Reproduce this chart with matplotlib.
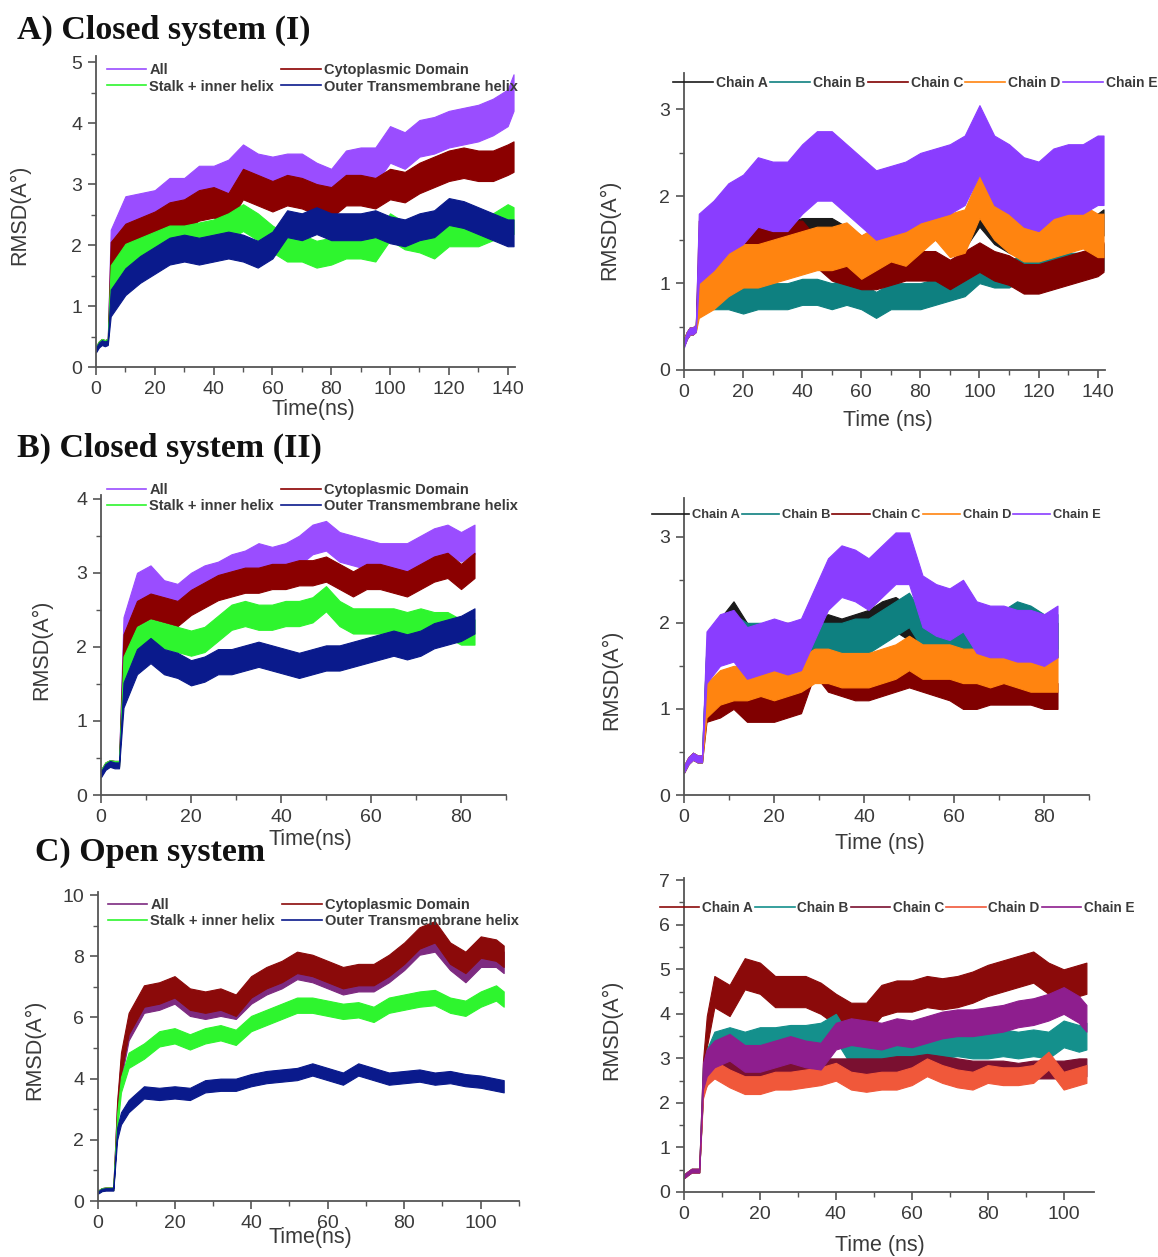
import numpy as np
import matplotlib.pyplot as plt
from matplotlib.lines import Line2D

plt.rcParams['font.family'] = ['Liberation Sans', 'DejaVu Sans']

W, H = 1158, 1257

# ---- time grids (ns) ----
t_a = [0, 1, 2, 3, 4, 5, 10, 15, 20, 25, 30, 35, 40, 45, 50, 55, 60, 65, 70, 75,
       80, 85, 90, 95, 100, 105, 110, 115, 120, 125, 130, 135, 140, 142]
t_b = [0, 1, 2, 3, 4, 5, 8, 11, 14, 17, 20, 23, 26, 29, 32, 35, 38, 41, 44, 47,
       50, 53, 56, 59, 62, 65, 68, 71, 74, 77, 80, 83]
t_c = [0, 1, 2, 3, 4, 5, 6, 8, 12, 16, 20, 24, 28, 32, 36, 40, 44, 48, 52, 56,
       60, 64, 68, 72, 76, 80, 84, 88, 92, 96, 100, 104, 106]

# ---- A) closed system (I), domains ----
a_all = [0.30, 0.38, 0.42, 0.40, 0.42, 1.95, 2.5, 2.55, 2.6, 2.8, 2.8, 3.0, 3.0, 3.1, 3.35,
         3.2, 3.15, 3.2, 3.2, 3.05, 2.95, 3.25, 3.3, 3.3, 3.65, 3.55, 3.75, 3.8, 3.9,
         3.95, 4.0, 4.1, 4.25, 4.5]
a_cyto = [0.30, 0.38, 0.42, 0.40, 0.42, 1.8, 2.1, 2.2, 2.3, 2.45, 2.5, 2.65, 2.7, 2.6, 3.0,
          2.9, 2.8, 2.9, 2.85, 2.75, 2.7, 2.9, 2.9, 2.85, 3.0, 2.95, 3.1, 3.2, 3.3,
          3.35, 3.3, 3.3, 3.4, 3.45]
a_stalk = [0.30, 0.38, 0.42, 0.40, 0.42, 1.45, 1.8, 1.9, 2.0, 2.1, 2.1, 2.15, 2.2, 2.3, 2.45,
           2.3, 2.1, 1.95, 1.95, 1.85, 1.9, 2.0, 2.0, 1.95, 2.3, 2.15, 2.1, 2.0, 2.2,
           2.2, 2.2, 2.3, 2.45, 2.4]
a_outer = [0.28, 0.36, 0.40, 0.38, 0.40, 1.05, 1.4, 1.6, 1.75, 1.9, 1.95, 1.9, 1.95, 2.0, 1.95,
           1.85, 2.0, 2.35, 2.3, 2.4, 2.3, 2.3, 2.3, 2.35, 2.25, 2.2, 2.3, 2.35, 2.55,
           2.5, 2.4, 2.3, 2.2, 2.2]

# ---- A) closed system (I), chains ----
a_chain_a = [0.32, 0.40, 0.45, 0.45, 0.48, 1.3, 1.35, 1.4, 1.45, 1.5, 1.5, 1.55, 1.6, 1.6, 1.6,
             1.5, 1.4, 1.45, 1.5, 1.5, 1.6, 1.65, 1.55, 1.55, 1.8, 1.6, 1.5, 1.45, 1.45,
             1.5, 1.55, 1.6, 1.65, 1.7]
a_chain_b = [0.32, 0.40, 0.45, 0.45, 0.48, 0.9, 0.85, 0.85, 0.8, 0.85, 0.85, 0.85, 0.9, 0.9, 0.85,
             0.9, 0.85, 0.75, 0.85, 0.85, 0.85, 0.9, 0.95, 1.0, 1.15, 1.1, 1.1, 1.2, 1.25,
             1.2, 1.2, 1.2, 1.3, 1.3]
a_chain_c = [0.32, 0.40, 0.45, 0.45, 0.48, 1.55, 1.5, 1.4, 1.45, 1.5, 1.5, 1.55, 1.55, 1.35, 1.2,
             1.15, 1.1, 1.1, 1.15, 1.2, 1.2, 1.2, 1.1, 1.2, 1.3, 1.2, 1.15, 1.05, 1.05,
             1.1, 1.15, 1.2, 1.25, 1.3]
a_chain_d = [0.32, 0.40, 0.45, 0.45, 0.48, 0.85, 0.95, 1.1, 1.2, 1.2, 1.25, 1.3, 1.35, 1.4, 1.4,
             1.45, 1.3, 1.4, 1.5, 1.45, 1.6, 1.75, 1.55, 1.6, 2.0, 1.75, 1.6, 1.5, 1.5,
             1.55, 1.6, 1.65, 1.55, 1.55]
a_chain_e = [0.30, 0.40, 0.45, 0.45, 0.48, 1.4, 1.55, 1.75, 1.85, 2.05, 2.0, 2.0, 2.2, 2.35, 2.35,
             2.2, 2.05, 1.9, 1.95, 2.0, 2.1, 2.15, 2.2, 2.3, 2.65, 2.3, 2.2, 2.05, 2.0,
             2.15, 2.2, 2.2, 2.3, 2.3]

# ---- B) closed system (II), domains ----
b_all = [0.30, 0.40, 0.43, 0.42, 0.42, 2.2, 2.8, 2.9, 2.7, 2.65, 2.8, 2.9, 2.95, 3.05, 3.1,
         3.2, 3.15, 3.2, 3.3, 3.45, 3.5, 3.35, 3.3, 3.25, 3.2, 3.2, 3.2, 3.3, 3.4, 3.45,
         3.35, 3.45]
b_cyto = [0.30, 0.40, 0.43, 0.42, 0.42, 2.0, 2.45, 2.55, 2.5, 2.45, 2.6, 2.7, 2.8, 2.85, 2.9,
          2.9, 2.95, 2.95, 3.0, 3.0, 3.05, 2.95, 2.85, 2.95, 2.95, 2.9, 2.85, 2.95, 3.05,
          3.1, 2.95, 3.1]
b_stalk = [0.30, 0.40, 0.43, 0.42, 0.42, 1.7, 2.1, 2.2, 2.15, 2.1, 2.05, 2.1, 2.25, 2.4, 2.45,
           2.4, 2.4, 2.45, 2.45, 2.5, 2.65, 2.45, 2.35, 2.35, 2.35, 2.35, 2.3, 2.35, 2.3,
           2.3, 2.2, 2.2]
b_outer = [0.28, 0.38, 0.42, 0.40, 0.40, 1.35, 1.8, 1.95, 1.8, 1.75, 1.65, 1.7, 1.8, 1.8, 1.85,
           1.9, 1.85, 1.8, 1.75, 1.8, 1.85, 1.85, 1.9, 1.95, 2.0, 2.05, 2.0, 2.05, 2.15,
           2.2, 2.25, 2.35]

# ---- B) closed system (II), chains ----
b_chain_a = [0.30, 0.40, 0.45, 0.42, 0.42, 1.55, 1.85, 2.05, 1.8, 1.75, 1.8, 1.8, 1.8, 1.85, 1.9,
             1.85, 1.9, 1.95, 2.05, 2.1, 2.0, 1.9, 1.85, 1.8, 1.8, 1.8, 1.8, 1.85, 1.9,
             1.85, 1.8, 1.8]
b_chain_b = [0.30, 0.40, 0.45, 0.42, 0.42, 1.55, 1.8, 1.9, 1.8, 1.8, 1.75, 1.75, 1.8, 1.8, 1.8,
             1.8, 1.85, 1.85, 1.95, 2.05, 2.15, 1.9, 1.85, 1.9, 1.9, 1.9, 1.9, 1.95, 2.05,
             2.0, 1.9, 1.9]
b_chain_c = [0.30, 0.40, 0.45, 0.42, 0.42, 1.0, 1.05, 1.15, 1.0, 1.0, 1.0, 1.05, 1.1, 1.55, 1.35,
             1.3, 1.25, 1.25, 1.3, 1.35, 1.4, 1.35, 1.3, 1.25, 1.15, 1.15, 1.2, 1.2, 1.2,
             1.2, 1.15, 1.15]
b_chain_d = [0.30, 0.40, 0.45, 0.42, 0.42, 1.1, 1.25, 1.3, 1.3, 1.35, 1.3, 1.35, 1.4, 1.5, 1.5,
             1.45, 1.45, 1.45, 1.5, 1.55, 1.65, 1.55, 1.55, 1.55, 1.5, 1.5, 1.45, 1.5, 1.45,
             1.4, 1.4, 1.4]
b_chain_e = [0.30, 0.40, 0.45, 0.42, 0.42, 1.6, 1.8, 1.85, 1.65, 1.7, 1.75, 1.7, 1.75, 2.1, 2.45,
             2.6, 2.55, 2.45, 2.6, 2.75, 2.75, 2.25, 2.15, 2.1, 2.2, 1.95, 1.9, 1.9, 1.85,
             1.85, 1.8, 1.9]

# ---- C) open system, domains ----
c_all = [0.30, 0.38, 0.40, 0.40, 0.40, 2.8, 4.3, 5.6, 6.5, 6.6, 6.8, 6.4, 6.3, 6.4, 6.3, 6.8,
         7.1, 7.3, 7.6, 7.5, 7.3, 7.1, 7.2, 7.2, 7.5, 7.9, 8.4, 8.5, 7.9, 7.5, 8.0, 8.0, 7.8]
c_cyto = [0.30, 0.38, 0.40, 0.40, 0.40, 2.9, 4.5, 5.8, 6.7, 6.8, 7.0, 6.6, 6.5, 6.6, 6.4, 7.0,
          7.3, 7.5, 7.8, 7.7, 7.5, 7.3, 7.4, 7.4, 7.7, 8.1, 8.6, 8.8, 8.1, 7.8, 8.3, 8.2, 8.0]
c_stalk = [0.30, 0.38, 0.40, 0.40, 0.40, 2.6, 3.8, 4.6, 4.9, 5.3, 5.4, 5.2, 5.4, 5.5, 5.35, 5.8,
           6.0, 6.2, 6.4, 6.4, 6.3, 6.2, 6.25, 6.1, 6.4, 6.5, 6.6, 6.65, 6.4, 6.3, 6.6, 6.8, 6.6]
c_outer = [0.28, 0.36, 0.38, 0.38, 0.38, 2.2, 2.7, 3.1, 3.55, 3.5, 3.55, 3.5, 3.75, 3.8, 3.8,
           3.95, 4.05, 4.1, 4.15, 4.3, 4.15, 4.0, 4.3, 4.15, 4.0, 4.05, 4.1, 4.0, 4.05, 3.95,
           3.9, 3.8, 3.75]

# ---- C) open system, chains ----
c_chain_a = [0.35, 0.42, 0.48, 0.48, 0.48, 2.6, 3.6, 4.5, 4.3, 4.9, 4.8, 4.5, 4.5, 4.5, 4.35,
             4.1, 3.9, 3.9, 4.3, 4.4, 4.4, 4.5, 4.45, 4.5, 4.6, 4.75, 4.85, 4.95, 5.05, 4.8,
             4.65, 4.75, 4.8]
c_chain_b = [0.35, 0.42, 0.48, 0.48, 0.48, 2.5, 2.9, 3.3, 3.4, 3.3, 3.4, 3.4, 3.45, 3.45, 3.5,
             3.7, 3.15, 3.15, 3.15, 3.2, 3.25, 3.3, 3.3, 3.35, 3.3, 3.3, 3.35, 3.3, 3.35, 3.3,
             3.55, 3.45, 3.5]
c_chain_c = [0.35, 0.42, 0.48, 0.48, 0.48, 2.4, 2.6, 2.8, 2.85, 2.8, 2.8, 2.8, 2.8, 2.8, 2.8,
             2.8, 2.8, 2.8, 2.8, 2.85, 2.85, 2.9, 2.85, 2.8, 2.75, 2.75, 2.75, 2.7, 2.75, 2.75,
             2.75, 2.8, 2.8]
c_chain_d = [0.35, 0.42, 0.48, 0.48, 0.48, 2.3, 2.6, 2.75, 2.55, 2.4, 2.4, 2.5, 2.5, 2.55, 2.6,
             2.7, 2.5, 2.45, 2.5, 2.5, 2.6, 2.8, 2.65, 2.55, 2.5, 2.65, 2.6, 2.6, 2.65, 2.95,
             2.5, 2.6, 2.65]
c_chain_e = [0.35, 0.42, 0.48, 0.48, 0.48, 2.6, 2.9, 3.1, 3.25, 3.0, 3.0, 3.1, 3.2, 3.1, 3.05,
             3.5, 3.6, 3.55, 3.5, 3.6, 3.55, 3.65, 3.75, 3.8, 3.8, 3.85, 3.9, 4.0, 4.05, 4.15,
             4.3, 4.1, 3.9]

# half-width of each fluctuation band
a_dom_spread = [0.3, 0.25, 0.22, 0.22]
a_chain_spread = [0.15, 0.15, 0.17, 0.25, 0.4]
b_dom_spread = [0.2, 0.17, 0.17, 0.17]
b_chain_spread = [0.2, 0.2, 0.15, 0.2, 0.3]
c_dom_spread = [0.35, 0.35, 0.25, 0.2]
c_chain_spread = [0.35, 0.3, 0.2, 0.2, 0.3]

domain_labels = ['All', 'Cytoplasmic Domain', 'Stalk + inner helix', 'Outer Transmembrane helix']
chain_labels = ['Chain A', 'Chain B', 'Chain C', 'Chain D', 'Chain E']

domain_colors = ['#9a4dff', '#8b0000', '#2ef52e', '#0a1a8c']
domain_colors_open = ['#7d2a80', '#8b0a0a', '#2ef52e', '#0a1a8c']
chain_colors = ['#1a1a1a', '#0e8080', '#800000', '#ff8410', '#8a3dff']
chain_colors_open = ['#8b0a0a', '#14908c', '#7a1030', '#f0583a', '#8e1e8e']

GREY = '#3a3a3a'
fig = plt.figure(figsize=(W / 100, H / 100), dpi=100)


def make_axes(x0, x1, ybot, ytop):
    return fig.add_axes([x0 / W, 1 - ybot / H, (x1 - x0) / W, (ybot - ytop) / H])


def draw_band(ax, t, y, spread, color):
    t = np.asarray(t, dtype=float)
    y = np.asarray(y, dtype=float)
    s = np.where(t <= 4, 0.04, spread)
    ax.fill_between(t, y - s, y + s, color=color, lw=0.8, edgecolor=color)


def style(ax, xlim, ylim, xmaj, ymaj, xlabel, xl_pos, yl_pos):
    ax.set_xlim(*xlim)
    ax.set_ylim(*ylim)
    for side in ['top', 'right']:
        ax.spines[side].set_visible(False)
    for side in ['left', 'bottom']:
        ax.spines[side].set_color('#555555')
        ax.spines[side].set_linewidth(1.3)
    ax.set_xticks(np.arange(0, xlim[1] + 0.01, xmaj))
    ax.set_xticks(np.arange(xmaj / 2, xlim[1] + 0.01, xmaj / 2), minor=True)
    ax.set_yticks(np.arange(0, ylim[1] + 0.01, ymaj))
    ax.set_yticks(np.arange(ymaj / 2, ylim[1] + 0.01, ymaj / 2), minor=True)
    ax.tick_params(which='major', length=6, width=1.2, color='#555555',
                   labelsize=14, labelcolor=GREY, pad=4)
    ax.tick_params(which='minor', length=3.5, width=1.0, color='#555555')
    ax.set_xlabel(xlabel, fontsize=15.5, color=GREY, va='center')
    ax.set_ylabel('RMSD(A°)', fontsize=15.5, color=GREY, va='center')
    ax.xaxis.set_label_coords(xl_pos[0] / W, 1 - xl_pos[1] / H, transform=fig.transFigure)
    ax.yaxis.set_label_coords(yl_pos[0] / W, 1 - yl_pos[1] / H, transform=fig.transFigure)


def domain_legend(ax, colors, pos):
    order = [0, 2, 1, 3]
    handles = [Line2D([], [], color=colors[i], lw=1.2) for i in order]
    ax.legend(handles, [domain_labels[i] for i in order], loc='center left',
              bbox_to_anchor=(pos[0] / W, 1 - pos[1] / H), bbox_transform=fig.transFigure,
              ncol=2, frameon=False, borderpad=0, borderaxespad=0, handlelength=2.7,
              handletextpad=0.2, columnspacing=0.5, labelspacing=0.15, labelcolor=GREY,
              prop=dict(family='Liberation Sans', weight='bold', size=10.5))


def chain_legend(ax, colors, pos, size):
    handles = [Line2D([], [], color=c, lw=1.2) for c in colors]
    ax.legend(handles, chain_labels, loc='center left',
              bbox_to_anchor=(pos[0] / W, 1 - pos[1] / H), bbox_transform=fig.transFigure,
              ncol=5, frameon=False, borderpad=0, borderaxespad=0, handlelength=2.9,
              handletextpad=0.2, columnspacing=0.15, labelcolor=GREY,
              prop=dict(family='Liberation Sans', weight='bold', size=size))


# A, left
ax = make_axes(96, 515, 367, 56)
for y, s, c in zip([a_all, a_cyto, a_stalk, a_outer], a_dom_spread, domain_colors):
    draw_band(ax, t_a, y, s, c)
style(ax, (0, 142.5), (0, 5.1), 20, 1, 'Time(ns)', (313, 410), (20, 215))
domain_legend(ax, domain_colors, (107, 78.5))

# A, right
ax = make_axes(684, 1105, 370, 73)
for y, s, c in zip([a_chain_a, a_chain_b, a_chain_c, a_chain_d, a_chain_e],
                   a_chain_spread, chain_colors):
    draw_band(ax, t_a, y, s, c)
style(ax, (0, 142.5), (0, 3.42), 20, 1, 'Time (ns)', (888, 420), (610, 230))
chain_legend(ax, chain_colors, (673, 83), 10)

# B, left
ax = make_axes(101, 506, 795, 495)
for y, s, c in zip([b_all, b_cyto, b_stalk, b_outer], b_dom_spread, domain_colors):
    draw_band(ax, t_b, y, s, c)
style(ax, (0, 90), (0, 4.05), 20, 1, 'Time(ns)', (310, 840), (42, 650))
domain_legend(ax, domain_colors, (107, 498))

# B, right
ax = make_axes(684, 1089, 795, 498)
for y, s, c in zip([b_chain_a, b_chain_b, b_chain_c, b_chain_d, b_chain_e],
                   b_chain_spread, chain_colors):
    draw_band(ax, t_b, y, s, c)
style(ax, (0, 90), (0, 3.45), 20, 1, 'Time (ns)', (880, 843), (612, 680))
chain_legend(ax, chain_colors, (652, 515), 9.3)

# C, left
ax = make_axes(98, 519, 1201, 892)
for y, s, c in zip([c_all, c_cyto, c_stalk, c_outer], c_dom_spread, domain_colors_open):
    draw_band(ax, t_c, y, s, c)
style(ax, (0, 110), (0, 10.1), 20, 2, 'Time(ns)', (310, 1237), (35, 1050))
domain_legend(ax, domain_colors_open, (108, 913))

# C, right
ax = make_axes(684, 1094, 1192, 878)
for y, s, c in zip([c_chain_a, c_chain_b, c_chain_c, c_chain_d, c_chain_e],
                   c_chain_spread, chain_colors_open):
    draw_band(ax, t_c, y, s, c)
style(ax, (0, 108), (0, 7.05), 20, 1, 'Time (ns)', (880, 1245), (612, 1030))
chain_legend(ax, chain_colors_open, (660, 908), 9.8)

title_font = dict(family='Liberation Serif', weight='bold', size=24.5, color='#111111',
                  ha='left', va='center')
fig.text(17 / W, 1 - 30 / H, 'A) Closed system (I)', **title_font)
fig.text(17 / W, 1 - 448 / H, 'B) Closed system (II)', **title_font)
fig.text(35 / W, 1 - 852 / H, 'C) Open system', **title_font)

fig.savefig('out.png', dpi=100)
